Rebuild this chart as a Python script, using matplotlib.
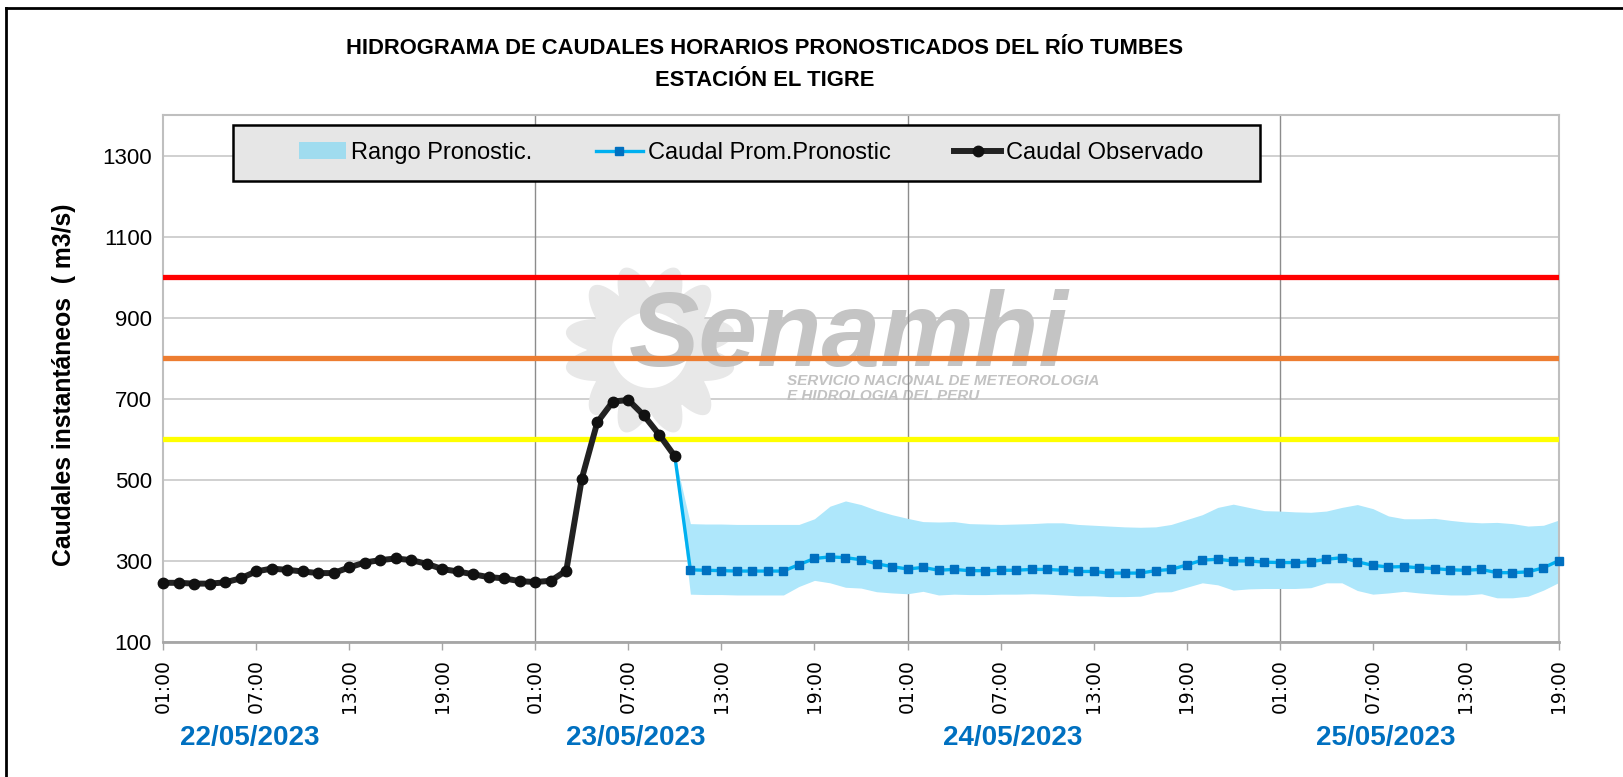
import numpy as np
import matplotlib
matplotlib.use('Agg')
import matplotlib.pyplot as plt
from matplotlib.patches import Rectangle, Polygon, Patch
from matplotlib.lines import Line2D
from matplotlib.transforms import blended_transform_factory

plt.rcParams['font.family'] = ['Liberation Sans', 'DejaVu Sans']

# caudal observado, cada hora desde 22/05 01:00 hasta 23/05 10:00
observed = [246, 246, 244, 244, 247, 257, 274, 281, 278, 274, 270, 270,
            284, 296, 302, 306, 302, 293, 280, 274, 267, 260, 257, 250,
            248, 251, 276, 503, 642, 693, 697, 659, 611, 558]

# pronostico, cada hora desde 23/05 11:00 hasta 25/05 19:00
forecast_mean = [278, 277, 276, 275, 275, 275, 275, 291, 306, 310, 308, 303,
                 293, 286, 280, 284, 277, 279, 276, 276, 277, 277, 279, 279,
                 277, 274, 274, 270, 270, 270, 276, 279, 290, 302, 304, 300,
                 300, 297, 296, 296, 298, 304, 308, 298, 289, 285, 286, 283,
                 281, 278, 277, 279, 271, 271, 273, 283, 301]
forecast_upper = [392, 391, 391, 390, 390, 390, 390, 390, 404, 435, 448, 439,
                  425, 414, 405, 397, 396, 397, 392, 391, 390, 391, 392, 394,
                  394, 390, 388, 386, 384, 383, 384, 390, 402, 414, 432, 440,
                  432, 424, 423, 421, 420, 423, 432, 439, 429, 411, 404, 404,
                  405, 400, 396, 394, 395, 392, 386, 388, 401]
forecast_lower = [218, 217, 217, 216, 216, 216, 216, 237, 252, 246, 235, 233,
                  224, 221, 219, 225, 216, 218, 217, 217, 218, 218, 219, 218,
                  216, 214, 214, 212, 212, 213, 223, 224, 235, 246, 241, 228,
                  231, 232, 232, 232, 234, 246, 246, 227, 218, 221, 225, 221,
                  218, 216, 216, 219, 209, 209, 213, 228, 247]

thresholds = [600, 800, 1000]
threshold_colors = ['#FFFF00', '#ED7D31', '#FF0000']

tick_labels = ['01:00', '07:00', '13:00', '19:00'] * 4
date_labels = ['22/05/2023', '23/05/2023', '24/05/2023', '25/05/2023']
legend_labels = ['Rango Pronostic.', 'Caudal Prom.Pronostic', 'Caudal Observado']

W, H = 1623, 777
def fx(px):
    return px / W
def fy(py):
    return 1 - py / H

hours_obs = np.arange(len(observed))
start = len(observed) - 1
hours_fc = np.arange(start, start + len(forecast_mean) + 1)
mean_line = [observed[-1]] + forecast_mean
upper = [observed[-1]] + forecast_upper
lower = [observed[-1]] + forecast_lower
n_hours = hours_fc[-1]

fig = plt.figure(figsize=(W / 100, H / 100), dpi=100)
ax = fig.add_axes([fx(163), fy(642), fx(1559) - fx(163), fy(115) - fy(642)])

# marca de agua
cx, cy = 650, 350
th = np.linspace(0, 2 * np.pi, 400)
r = 62 + 24 * np.abs(np.sin(6 * th + 0.25 * np.sin(6 * th)))
sun = Polygon(np.column_stack([fx(cx + r * np.cos(th)), fy(cy + r * np.sin(th))]),
              closed=True, transform=fig.transFigure, facecolor='#E8E8E8',
              edgecolor='none', zorder=0.6)
ax.add_patch(sun)
hole = Polygon(np.column_stack([fx(cx + 38 * np.cos(th)), fy(cy + 38 * np.sin(th))]),
               closed=True, transform=fig.transFigure, facecolor='white',
               edgecolor='none', zorder=0.61)
ax.add_patch(hole)
ax.text(fx(849), fy(366), 'Senamhi', transform=fig.transFigure, ha='center', va='baseline',
        fontsize=76, fontweight='bold', style='italic', color='#C4C4C4', zorder=0.7)
ax.text(fx(787), fy(381), 'SERVICIO NACIONAL DE METEOROLOGIA', transform=fig.transFigure,
        ha='left', va='center', fontsize=11, fontweight='bold', style='italic',
        color='#C2C2C2', zorder=0.7)
ax.text(fx(787), fy(396), 'E HIDROLOGIA DEL PERU', transform=fig.transFigure,
        ha='left', va='center', fontsize=11, fontweight='bold', style='italic',
        color='#C2C2C2', zorder=0.7)

ax.fill_between(hours_fc, lower, upper, color='#AEE7FB', lw=0, zorder=2)
for thr, c in zip(thresholds, threshold_colors):
    ax.axhline(thr, color=c, lw=3.8, zorder=3)
ax.plot(hours_fc, mean_line, color='#00B0F0', lw=2.4, zorder=4, clip_on=False)
ax.plot(hours_fc[1:], forecast_mean, ls='none', marker='s', ms=5.5,
        mfc='#0070C0', mec='#0070C0', zorder=4.5, clip_on=False)
ax.plot(hours_obs, observed, color='#222222', lw=4.3, marker='o', ms=7.5,
        mfc='#111111', mec='#111111', zorder=5, clip_on=False)

ax.set_xlim(0, n_hours)
ax.set_ylim(100, 1400)
ax.set_yticks(range(100, 1301, 200))
ax.set_xticks(np.arange(0, n_hours + 1, 6))
ax.set_xticklabels(tick_labels, rotation=90, fontsize=13.5, family='DejaVu Sans')
ax.tick_params(axis='y', length=0, labelsize=16, pad=8)
ax.tick_params(axis='x', length=6, color='#A6A6A6', width=1, pad=6.5)
ax.yaxis.grid(True, color='#C8C8C8', lw=1.2)
ax.set_axisbelow(True)
for h in range(24, n_hours, 24):
    ax.axvline(h, color='#8C8C8C', lw=1, zorder=1)
for s in ax.spines.values():
    s.set_color('#BFBFBF')
    s.set_linewidth(1.5)
ax.spines['bottom'].set_color('#A6A6A6')
ax.spines['bottom'].set_linewidth(2)

# titulo del eje y
fig.text(fx(64), fy(385), 'Caudales instantáneos  ( m3/s)', rotation=90,
         ha='center', va='center', fontsize=17.8, fontweight='bold')

# fechas
trans = blended_transform_factory(ax.transData, fig.transFigure)
for xpos, lab in zip([5.6, 30.5, 54.8, 78.8], date_labels):
    ax.text(xpos, fy(738), lab, transform=trans, ha='center', va='center',
            fontsize=20, fontweight='bold', color='#0070C0')

# titulo
fig.text(fx(765), fy(48), 'HIDROGRAMA DE CAUDALES HORARIOS PRONOSTICADOS DEL RÍO TUMBES',
         ha='center', va='center', fontsize=15.8, fontweight='bold')
fig.text(fx(765), fy(80), 'ESTACIÓN EL TIGRE', ha='center', va='center',
         fontsize=15.8, fontweight='bold')

# leyenda
box = Rectangle((fx(233), fy(181)), fx(1260) - fx(233), fy(125) - fy(181),
                transform=fig.transFigure, facecolor='#E6E6E6', edgecolor='black',
                lw=1.8, zorder=6, clip_on=False)
ax.add_patch(box)
handles = [Patch(facecolor='#A0DCEF', edgecolor='none'),
           Line2D([], [], color='#00B0F0', lw=2.4, marker='s', ms=5.5,
                  mfc='#0070C0', mec='#0070C0'),
           Line2D([], [], color='#222222', lw=4.3, marker='o', ms=7.5,
                  mfc='#111111', mec='#111111')]
leg = ax.legend(handles, legend_labels, loc='center', ncol=3, frameon=False,
                fontsize=17, handlelength=2.0, handletextpad=0.2, columnspacing=2.7,
                numpoints=1, bbox_to_anchor=(fx(751), fy(153)),
                bbox_transform=fig.transFigure)
leg.set_zorder(7)

# borde
fig.add_artist(Line2D([fx(6), fx(6)], [0, fy(8)], color='black', lw=2,
                      transform=fig.transFigure))
fig.add_artist(Line2D([fx(6), 1], [fy(8), fy(8)], color='black', lw=2,
                      transform=fig.transFigure))

fig.savefig('out.png', dpi=100)
